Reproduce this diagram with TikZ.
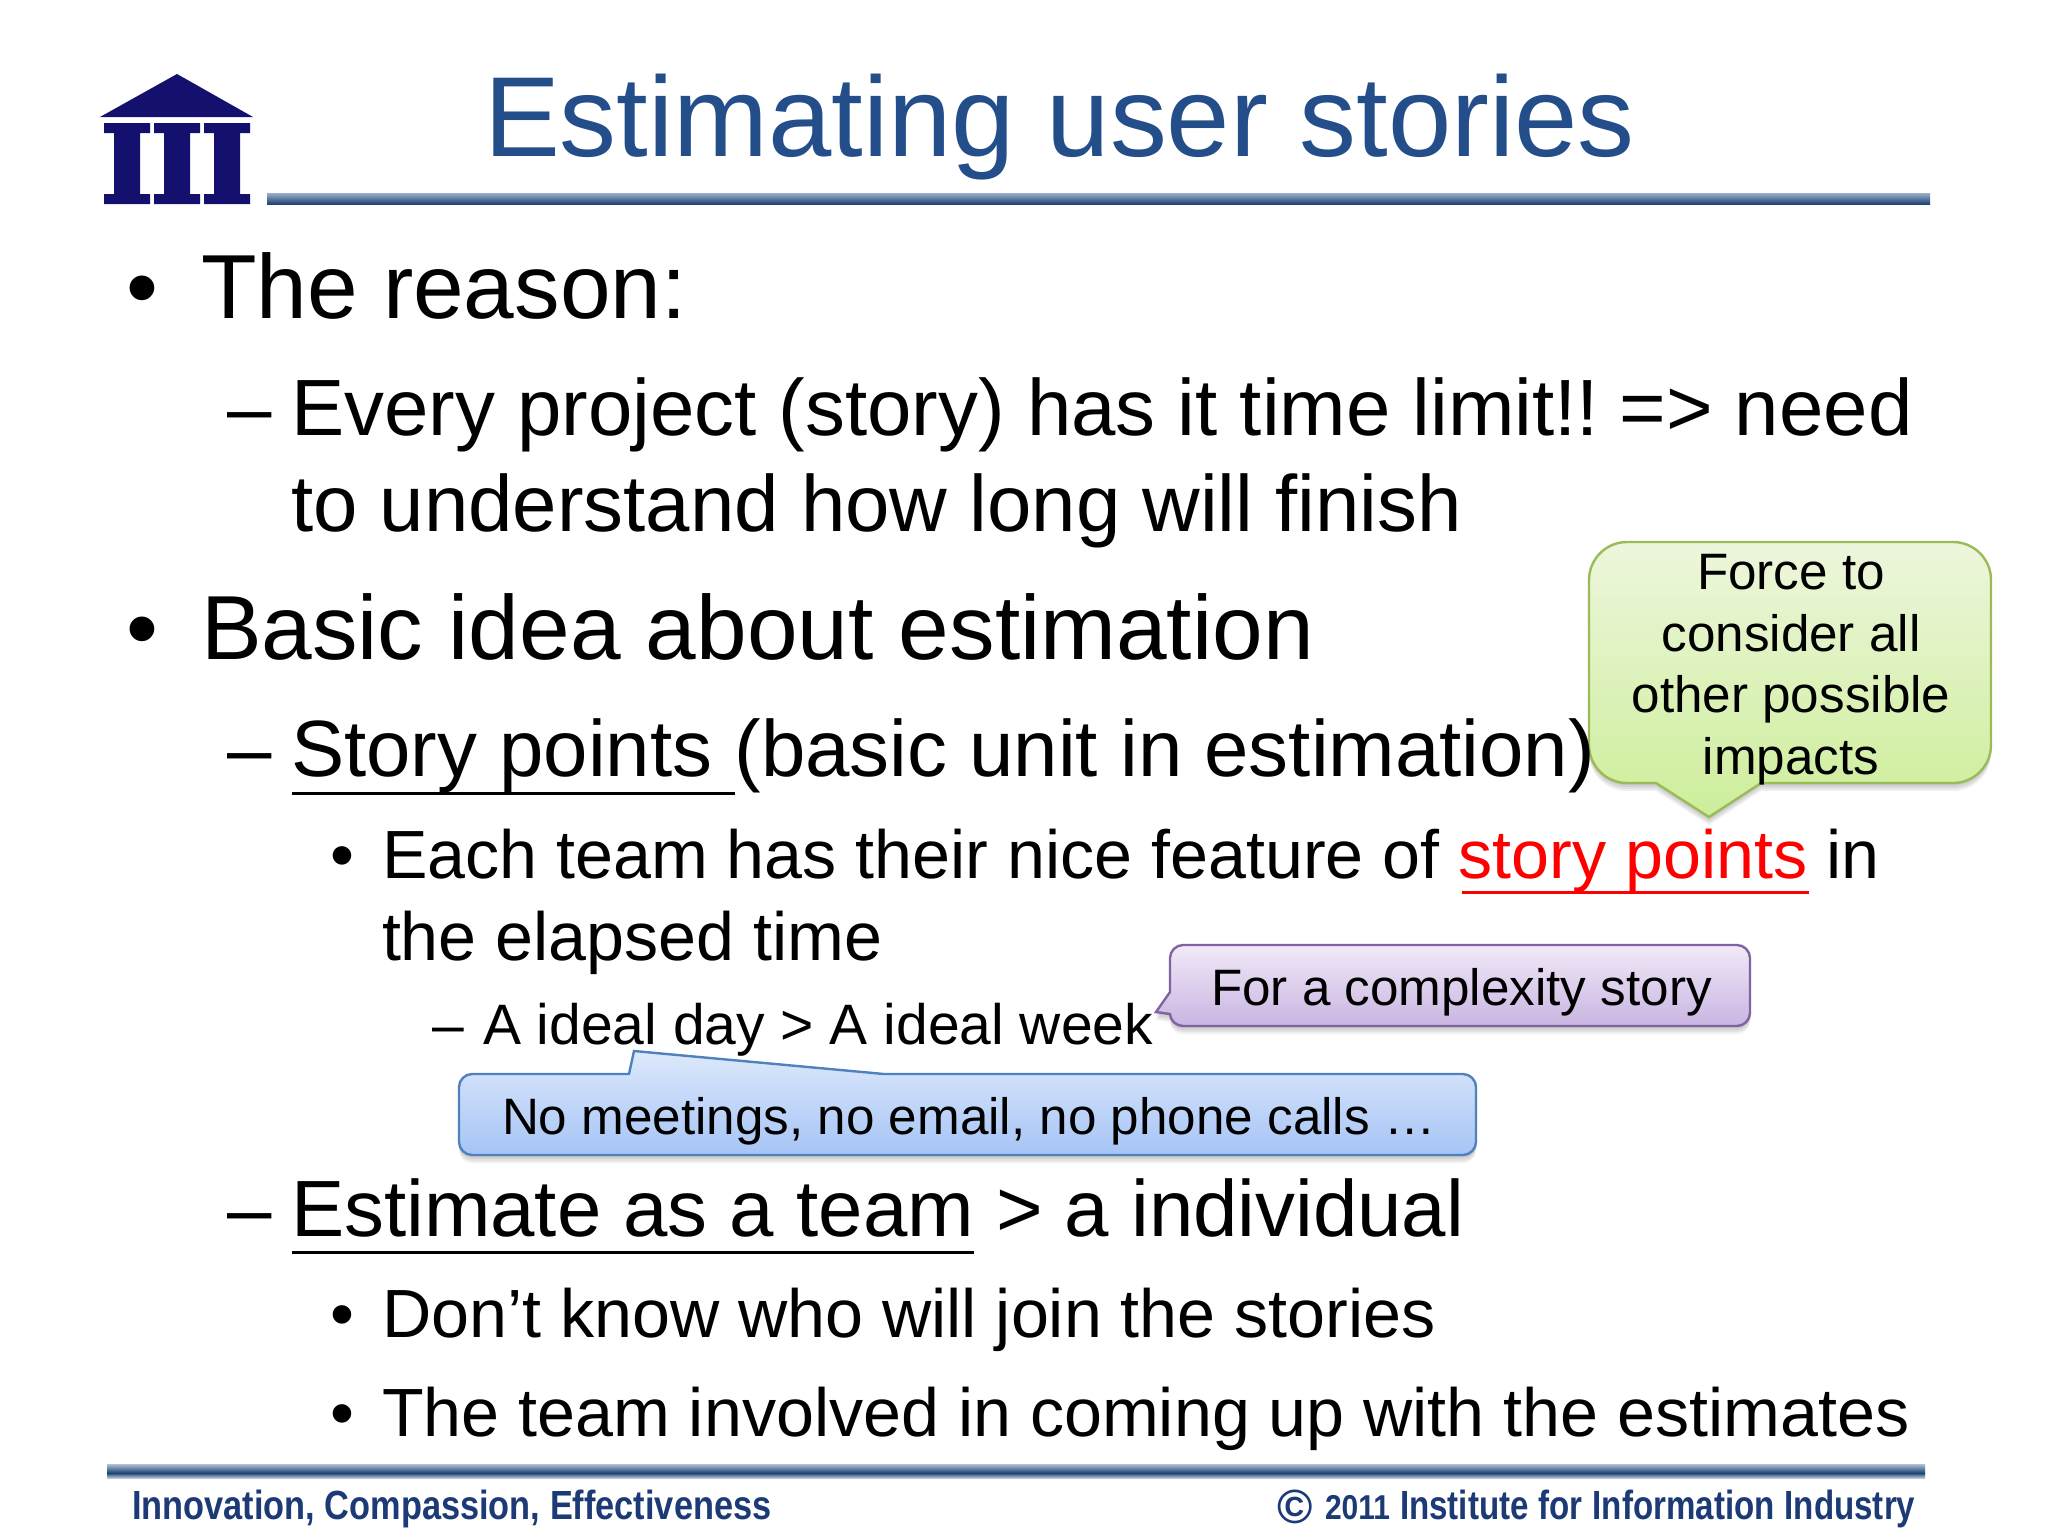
\documentclass[tikz,border=0pt]{standalone}
\usepackage{fontspec}
\setmainfont{Liberation Sans}
\newcommand{\fsz}[1]{\fontsize{#1}{#1}\selectfont}
\definecolor{titleblue}{HTML}{234E8A}
\definecolor{navy}{HTML}{14106E}
\definecolor{footblue}{HTML}{1C3A75}
\definecolor{gborder}{HTML}{9BBB59}
\definecolor{gtop}{HTML}{EDF6DC}
\definecolor{gbot}{HTML}{CDEE9A}
\definecolor{pborder}{HTML}{8064A2}
\definecolor{ptop}{HTML}{F1E9F7}
\definecolor{pbot}{HTML}{C9B5E2}
\definecolor{bborder}{HTML}{4F81BD}
\definecolor{btop}{HTML}{DDE9FB}
\definecolor{bbot}{HTML}{A6C4F6}
\newcommand{\greenpath}{(1627,542) -- (1953,542) .. controls (1974,542) and (1991,559) .. (1991,580) -- (1991,745) .. controls (1991,766) and (1974,783) .. (1953,783) -- (1761,783) -- (1709,817) -- (1656,783) -- (1627,783) .. controls (1606,783) and (1589,766) .. (1589,745) -- (1589,580) .. controls (1589,559) and (1606,542) .. (1627,542) -- cycle}
\newcommand{\purplepath}{(1183,945) -- (1737,945) .. controls (1744,945) and (1750,951) .. (1750,958) -- (1750,1013) .. controls (1750,1020) and (1744,1026) .. (1737,1026) -- (1183,1026) .. controls (1176,1026) and (1170,1020) .. (1170,1014) -- (1156,1012) -- (1170,992) -- (1170,958) .. controls (1170,951) and (1176,945) .. (1183,945) -- cycle}
\newcommand{\bluepath}{(472,1074) -- (629,1074) -- (634,1051) -- (884,1074) -- (1463,1074) .. controls (1470,1074) and (1476,1080) .. (1476,1087) -- (1476,1142) .. controls (1476,1149) and (1470,1155) .. (1463,1155) -- (472,1155) .. controls (465,1155) and (459,1149) .. (459,1142) -- (459,1087) .. controls (459,1080) and (465,1074) .. (472,1074) -- cycle}
\tikzset{
  x=0.5pt,y=-0.5pt,
  txt/.style={anchor=base west,inner sep=0pt,outer sep=0pt,text=black},
  lone/.style={txt,font=\fsz{45.5}},
  ltwo/.style={txt,font=\fsz{39.9}},
  lthree/.style={txt,font=\fsz{34.1}},
  lfour/.style={txt,font=\fsz{28.5}},
  calltext/.style={txt,font=\fsz{25.6}},
  callcenter/.style={calltext,anchor=base},
  foot/.style={txt,text=footblue,font=\bfseries\fsz{17.7},yscale=1.15,transform shape},
  softshadow/.style={fill=black,fill opacity=0.06,draw=none},
  callborder/.style={line width=1.2pt},
}
\begin{document}
\begin{tikzpicture}
\useasboundingbox (0,0) rectangle (2048,1536);
\fill[white] (0,0) rectangle (2048,1536);
% logo
\fill[navy] (100,117) -- (177,74) -- (253,117) -- cycle;
\foreach \cx in {127,177,227}{
  \fill[navy] (\cx-23,123) -- (\cx+23,123) -- (\cx+23,133) -- (\cx+13,133) -- (\cx+13,194) -- (\cx+23,194) -- (\cx+23,204) -- (\cx-23,204) -- (\cx-23,194) -- (\cx-13,194) -- (\cx-13,133) -- (\cx-23,133) -- cycle;
}
% rules
\shade[top color=titleblue!45!white,bottom color=titleblue!85!black] (267,193) rectangle (1930,204);
\shade[top color=titleblue!35!white,bottom color=titleblue!85!black] (107,1464) rectangle (1925,1473);
\shade[top color=titleblue!85!black,bottom color=titleblue!30!white] (107,1473) rectangle (1925,1478);
% callouts
\foreach \d in {2,4,6,8}{
  \path[softshadow,yshift=-\d*0.5pt] \greenpath;
  \path[softshadow,yshift=-\d*0.5pt] \purplepath;
  \path[softshadow,yshift=-\d*0.5pt] \bluepath;
}
\path[callborder,draw=gborder,top color=gtop,bottom color=gbot] \greenpath;
\path[callborder,draw=pborder,top color=ptop,bottom color=pbot] \purplepath;
\path[callborder,draw=bborder,top color=btop,bottom color=bbot] \bluepath;
% title
\node[txt,text=titleblue,font=\fsz{56.9}] (title) at (484,156) {Estimating user stories};
% body
\node[lone] (b1) at (126,318) {•};
\node[lone] (t1) at (201,318) {The reason:};
\node[ltwo] (d1) at (227,435) {–};
\node[ltwo] (t2) at (291,435) {Every project (story) has it time limit!! \kern-4.5pt=> need};
\node[ltwo] (t3) at (291,531) {to understand how long will finish};
\node[lone] (b2) at (126,659) {•};
\node[lone] (t4) at (201,659) {Basic idea about estimation};
\node[ltwo] (d2) at (227,776) {–};
\node[ltwo] (t5) at (291,776) {Story points\ (basic unit in estimation)};
\draw[black,line width=1.5pt] (292,793) -- (735,793);
\node[lthree] (b3) at (330,878) {•};
\node[lthree] (t6) at (382,878) {Each team has their nice feature of \textcolor{red}{story points} in};
\draw[red,line width=1.5pt] (1462,892) -- (1809,892);
\node[lthree] (t7) at (382,960) {the elapsed time};
\node[lfour] (d3) at (432,1044) {–};
\node[lfour] (t8) at (483,1044) {A ideal day > A ideal week};
\node[ltwo] (d4) at (227,1236) {–};
\node[ltwo] (t9) at (291,1236) {Estimate as a team > a individual};
\draw[black,line width=1.5pt] (292,1252) -- (974,1252);
\node[lthree] (b4) at (330,1337) {•};
\node[lthree] (t10) at (382,1337) {Don’t know who will join the stories};
\node[lthree] (b5) at (330,1436) {•};
\node[lthree] (t11) at (382,1436) {The team involved in coming up with the estimates};
% callout text
\node[callcenter] (g1) at (1791,589) {Force to};
\node[callcenter] (g2) at (1791,651) {consider all};
\node[callcenter] (g3) at (1791,712) {other possible};
\node[callcenter] (g4) at (1791,774) {impacts};
\node[calltext] (pt) at (1211,1005) {For a complexity story};
\node[calltext] (bt) at (502,1134) {No meetings, no email, no phone calls …};
% footer
\node[foot,xscale=.97] (f1) at (132,1519) {\spaceskip=.28em Innovation, Compassion, Effectiveness};
\node[txt,text=footblue,font=\bfseries\fsz{24}] (fc) at (1277,1523) {©};
\node[foot,font=\bfseries\fsz{15}] (f2) at (1325,1519) {2011};
\node[foot,xscale=.935] (f3) at (1400,1519) {\spaceskip=.3em Institute for Information Industry};
\end{tikzpicture}
\end{document}
